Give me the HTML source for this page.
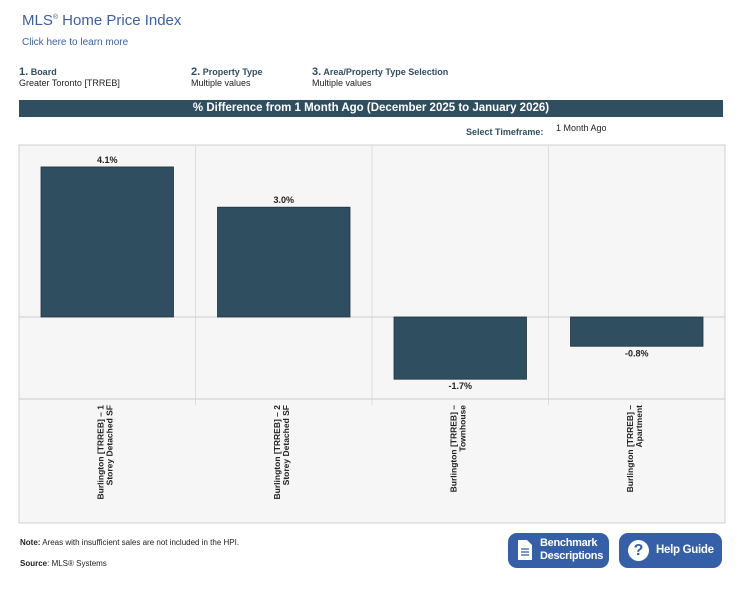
<!DOCTYPE html>
<html><head><meta charset="utf-8"><style>
body{margin:0;width:742px;height:595px;background:#fff;font-family:"Liberation Sans",sans-serif;position:relative;overflow:hidden}
.a{position:absolute;white-space:nowrap}
.btn{position:absolute;background:#3560a8;border-radius:9px;color:#fff;font-weight:bold;font-size:11px;letter-spacing:-0.3px}
</style></head><body>
<div class="a" style="left:22px;top:12px;font-size:15px;color:#3d5fa8">MLS<sup style="font-size:7px">®</sup> Home Price Index</div>
<div class="a" style="left:22px;top:37px;font-size:10px;color:#3d5fa8">Click here to learn more</div>
<div class="a" style="left:19px;top:66px;font-size:9px;color:#222"><b style="color:#2f4e5f"><span style="font-size:11px">1.</span> Board</b><br>Greater Toronto [TRREB]</div>
<div class="a" style="left:191px;top:66px;font-size:9px;color:#222"><b style="color:#2f4e5f"><span style="font-size:11px">2.</span> Property Type</b><br>Multiple values</div>
<div class="a" style="left:312px;top:66px;font-size:9px;color:#222"><b style="color:#2f4e5f"><span style="font-size:11px">3.</span> Area/Property Type Selection</b><br>Multiple values</div>
<div class="a" style="left:19px;top:100px;width:704px;height:17px;background:#2f4e5f;color:#fff;font-weight:bold;font-size:11.5px;text-align:center;line-height:17px">% Difference from 1 Month Ago (December 2025 to January 2026)</div>
<div class="a" style="left:466px;top:127px;font-size:9px;font-weight:bold;color:#2f4e5f">Select Timeframe:</div>
<div class="a" style="left:556px;top:123px;font-size:9px;color:#222">1 Month Ago</div>
<svg id="chart" class="a" style="left:0;top:0" width="742" height="595"></svg>
<div class="a" style="left:20px;top:538px;font-size:8px;color:#222"><b>Note:</b> Areas with insufficient sales are not included in the HPI.</div>
<div class="a" style="left:20px;top:559px;font-size:8px;color:#222"><b>Source</b>: MLS® Systems</div>
<div class="btn" style="left:508px;top:533px;width:101px;height:35px">
<svg style="position:absolute;left:10px;top:7px" width="14" height="20"><path d="M0 0h9l5 5v15h-14z" fill="#fff"/><path d="M3 9h8M3 12h8M3 15h8" stroke="#3560a8" stroke-width="1.3"/></svg>
<div style="position:absolute;left:32px;top:4px;line-height:13px">Benchmark<br>Descriptions</div></div>
<div class="btn" style="left:619px;top:533px;width:103px;height:35px">
<div style="position:absolute;left:9px;top:7px;width:21px;height:21px;border-radius:50%;background:#fff;color:#3560a8;font-size:16px;text-align:center;line-height:21px;letter-spacing:0">?</div>
<div style="position:absolute;left:37px;top:11px;font-size:11.5px">Help Guide</div></div>
<script>
const categories=[["Burlington [TRREB] – 1","Storey Detached SF"],["Burlington [TRREB] – 2","Storey Detached SF"],["Burlington [TRREB] –","Townhouse"],["Burlington [TRREB] –","Apartment"]];
const values=[4.1,3.0,-1.7,-0.8];
const valueLabels=["4.1%","3.0%","-1.7%","-0.8%"];
const NS="http://www.w3.org/2000/svg",svg=document.getElementById('chart');
const L=19,R=725,T=145,AX=399,B=523,zero=317,ppu=36.6,colW=(R-L)/categories.length;
const y=v=>zero-v*ppu;
function mk(t,a){const e=document.createElementNS(NS,t);for(const k in a)e.setAttribute(k,a[k]);svg.appendChild(e);return e;}
const bg=mk('rect',{x:L,y:T,width:R-L,height:B-T,fill:'#f6f6f6',stroke:'#d0d0d0'});


for(let i=1;i<categories.length;i++){const g=mk('line',{x1:L+i*colW,x2:L+i*colW,y1:T,y2:AX+6,stroke:'#ddd'});

}
const zl=mk('line',{x1:L,x2:R,y1:zero,y2:zero,stroke:'#ccc'});


const al=mk('line',{x1:L,x2:R,y1:AX,y2:AX,stroke:'#ccc'});


values.forEach((v,i)=>{
const x0=L+i*colW+22,w=colW-44,top=Math.min(y(v),zero),h=Math.abs(y(v)-zero);
const b=mk('rect',{x:x0,y:top,width:w,height:h,fill:'#2f4e5f',stroke:'#1f3440','stroke-width':0.8});


const ty=v>=0?y(v)-4:y(v)+10;
const t=mk('text',{x:x0+w/2,y:ty,'text-anchor':'middle','font-size':9,'font-weight':'bold',fill:'#222'});t.textContent=valueLabels[i];


const cx=L+i*colW+colW/2;
categories[i].forEach((s,j)=>{const lt=mk('text',{transform:`translate(${cx-4+j*9},${AX+6}) rotate(-90)`,'text-anchor':'end','font-size':8.5,'font-weight':'bold',fill:'#222'});
lt.textContent=s;

});
});
</script>
</body></html>
